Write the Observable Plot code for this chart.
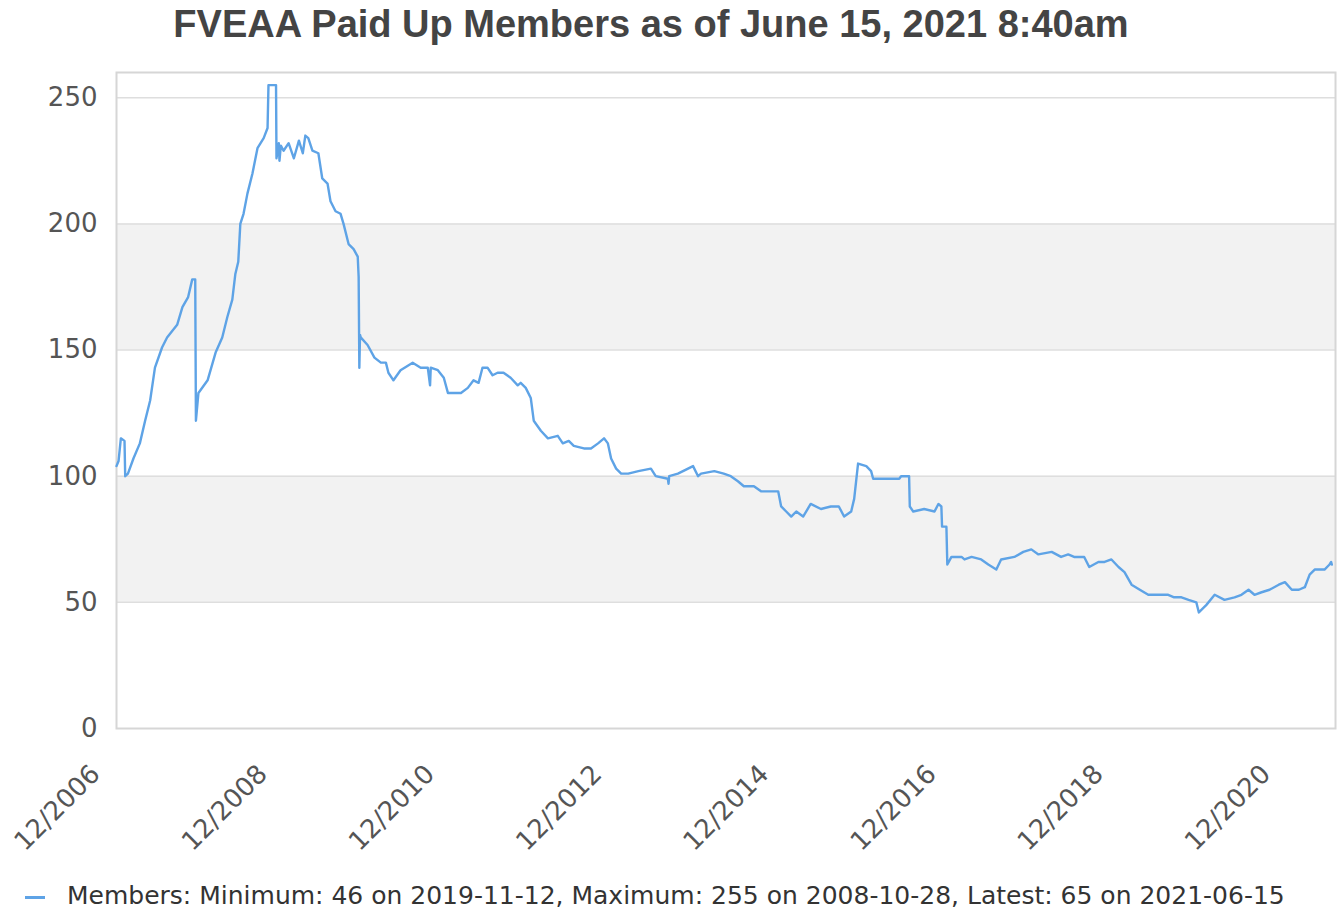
<!DOCTYPE html>
<html>
<head>
<meta charset="utf-8">
<script src="https://cdn.jsdelivr.net/npm/d3@7"></script>
<script src="https://cdn.jsdelivr.net/npm/@observablehq/plot@0.6"></script>
<style>
  html, body { margin: 0; padding: 0; background: #fff; }
  #wrap { position: relative; width: 1340px; height: 909px; overflow: hidden; }
  #title { position: absolute; left: 0; top: 3px; width: 1302px; text-align: center;
           font: bold 38px "Liberation Sans", Arial, sans-serif; color: #444; }
  #chart { position: absolute; left: 0; top: 0; }
  #legend { position: absolute; left: 25px; top: 881px; font: 25px "DejaVu Sans", sans-serif; color: #333; white-space: nowrap; }
  #legend .sw { display: inline-block; width: 20px; height: 3px; background: #5ea3e6; vertical-align: middle; margin-right: 22px; }
</style>
</head>
<body>
<div id="wrap">
  <div id="chart"></div>
  <div id="title">FVEAA Paid Up Members as of June 15, 2021 8:40am</div>
  <div id="legend"><span class="sw"></span>Members: Minimum: 46 on 2019-11-12, Maximum: 255 on 2008-10-28, Latest: 65 on 2021-06-15</div>
</div>
<script>
const dates = [
"2006-12-01","2006-12-10","2006-12-20","2007-01-05","2007-01-08","2007-01-20","2007-02-13","2007-03-13","2007-04-05","2007-04-27",
"2007-05-18","2007-06-18","2007-07-10","2007-08-23","2007-09-15","2007-10-10","2007-10-28","2007-11-10","2007-11-13","2007-11-24",
"2008-01-03","2008-02-07","2008-03-07","2008-03-29","2008-04-20","2008-05-03","2008-05-16","2008-05-25","2008-06-08","2008-06-25",
"2008-07-17","2008-08-08","2008-09-04","2008-09-21","2008-09-25","2008-10-28","2008-10-30","2008-11-09","2008-11-12","2008-11-18",
"2008-11-30","2008-12-22","2009-01-14","2009-02-05","2009-02-22","2009-03-05","2009-03-18","2009-04-05","2009-05-01","2009-05-18",
"2009-06-10","2009-06-23","2009-07-15","2009-08-06","2009-08-19","2009-09-10","2009-10-02","2009-10-20","2009-10-24","2009-10-27",
"2009-10-30","2009-11-02","2009-12-02","2010-01-01","2010-01-29","2010-02-20","2010-03-03","2010-03-25","2010-04-25","2010-06-17",
"2010-07-22","2010-08-22","2010-09-01","2010-09-04","2010-10-05","2010-10-31","2010-11-18","2010-12-09","2011-01-14","2011-02-13",
"2011-03-10","2011-04-01","2011-04-18","2011-05-10","2011-06-01","2011-06-23","2011-07-19","2011-08-19","2011-09-19","2011-10-02",
"2011-10-24","2011-11-15","2011-11-28","2011-12-29","2012-01-29","2012-03-12","2012-04-03","2012-04-29","2012-05-21","2012-07-04",
"2012-08-04","2012-09-04","2012-09-30","2012-10-17","2012-10-31","2012-11-22","2012-12-14","2013-01-14","2013-02-27","2013-04-23",
"2013-05-14","2013-07-06","2013-07-09","2013-07-12","2013-08-19","2013-10-02","2013-10-24","2013-11-15","2013-11-28","2014-01-25",
"2014-03-07","2014-04-07","2014-05-08","2014-06-03","2014-07-17","2014-08-17","2014-09-30","2014-10-31","2014-11-13","2014-12-05",
"2014-12-27","2015-01-18","2015-02-17","2015-03-22","2015-05-06","2015-06-18","2015-07-23","2015-08-15","2015-09-15","2015-09-28",
"2015-10-15","2015-11-20","2015-12-11","2015-12-20","2016-04-12","2016-04-20","2016-05-25","2016-05-28","2016-06-12","2016-07-30",
"2016-09-13","2016-09-30","2016-10-13","2016-10-16","2016-11-04","2016-11-08","2016-11-26","2017-01-09","2017-01-22","2017-02-22",
"2017-04-05","2017-05-06","2017-06-10","2017-07-01","2017-08-28","2017-10-06","2017-11-10","2017-12-11","2018-02-07","2018-03-20",
"2018-04-20","2018-05-16","2018-06-29","2018-07-21","2018-08-30","2018-09-26","2018-10-26","2018-11-26","2018-12-22","2019-01-22",
"2019-02-27","2019-04-05","2019-05-18","2019-07-01","2019-07-27","2019-08-28","2019-09-28","2019-11-01","2019-11-12","2019-12-15",
"2020-01-20","2020-03-03","2020-04-16","2020-05-16","2020-06-16","2020-07-12","2020-08-12","2020-09-16","2020-10-26","2020-11-22",
"2020-12-22","2021-01-22","2021-02-17","2021-03-10","2021-04-01","2021-05-14","2021-06-05","2021-06-12","2021-06-15"
];
const members = [
104,106,115,114,100,101,107,113,122,130,
143,151,155,160,167,171,178,178,122,133,
138,149,155,163,170,180,185,200,204,212,
220,230,234,238,255,255,226,232,225,231,
229,232,226,233,228,235,234,229,228,218,
216,209,205,204,200,192,190,187,179,143,
156,155,152,147,145,145,141,138,142,145,
143,143,136,143,142,139,133,133,133,135,
138,137,143,143,140,141,141,139,136,137,
135,131,122,118,115,116,113,114,112,111,
111,113,115,113,107,103,101,101,102,103,
100,99,97,100,101,103,104,100,101,102,
101,100,98,96,96,94,94,94,88,86,
84,86,84,89,87,88,88,84,86,91,
105,104,102,99,99,100,100,88,86,87,
86,89,88,80,80,65,68,68,67,68,
67,65,63,67,68,70,71,69,70,68,
69,68,68,64,66,66,67,64,62,57,
55,53,53,53,52,52,51,50,46,49,
53,51,52,53,55,53,54,55,57,58,
55,55,56,61,63,63,65,66,65
];
const yTicks = [0, 50, 100, 150, 200, 250];
const bandLows = [50, 150];
const bandHighs = [100, 200];
const xTickLabels = ["12/2006","12/2008","12/2010","12/2012","12/2014","12/2016","12/2018","12/2020"];
const xDomain = ["2006-12-01", "2021-07-01"];

const parse = d3.utcParse("%Y-%m-%d");
const parseTick = d3.utcParse("%m/%Y");
const series = dates.map((d, i) => ({date: parse(d), value: members[i]}));
const bands = bandLows.map((lo, i) => ({y1: lo, y2: bandHighs[i]}));
const xTicks = xTickLabels.map(s => ({date: parseTick(s), label: s}));

const chart = Plot.plot({
  width: 1340,
  height: 860,
  marginTop: 72,
  marginLeft: 116,
  marginRight: 5,
  marginBottom: 132,
  style: {fontFamily: "'DejaVu Sans', sans-serif", background: "transparent"},
  x: {type: "utc", domain: xDomain.map(parse), axis: null},
  y: {domain: [0, 260], axis: null},
  marks: [
    Plot.rect(bands, {y1: "y1", y2: "y2", fill: "#f2f2f2"}),
    Plot.ruleY(yTicks.filter(d => d > 0), {stroke: "#dedede", strokeWidth: 1.5}),
    Plot.frame({stroke: "#d6d6d6", strokeWidth: 2}),
    Plot.axisY({ticks: yTicks, tickSize: 0, tickPadding: 19, fontSize: 26, fill: "#555", label: null}),
    Plot.text(xTicks, {x: "date", text: "label", frameAnchor: "bottom", rotate: -45, textAnchor: "end",
      dx: -15, dy: 47, fontSize: 26, fill: "#555"}),
    Plot.line(series, {x: "date", y: "value", stroke: "#5ea3e6", strokeWidth: 2.4})
  ]
});
document.getElementById("chart").appendChild(chart);
</script>
</body>
</html>
